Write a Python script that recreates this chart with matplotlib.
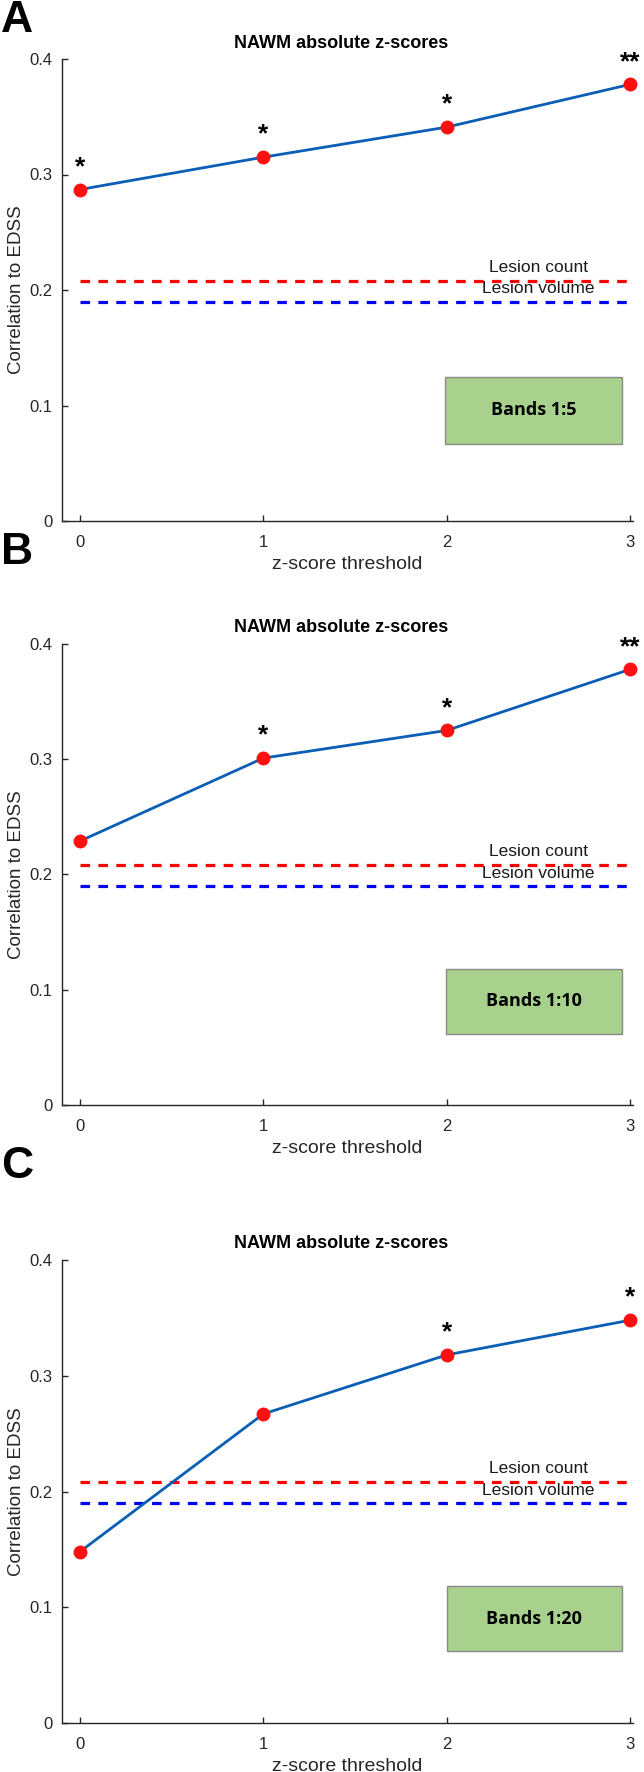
import matplotlib
matplotlib.use("Agg")
import matplotlib.pyplot as plt
from matplotlib.patches import Rectangle

thresholds = [0, 1, 2, 3]
corr_a = [0.287, 0.315, 0.341, 0.378]
corr_b = [0.229, 0.301, 0.325, 0.378]
corr_c = [0.148, 0.267, 0.318, 0.348]
stars_a = ["*", "*", "*", "**"]
stars_b = ["", "*", "*", "**"]
stars_c = ["", "", "*", "*"]
lesion_count = 0.208
lesion_volume = 0.190
band_labels = ["Bands 1:5", "Bands 1:10", "Bands 1:20"]
panel_letters = ["A", "B", "C"]
yticks = [0, 0.1, 0.2, 0.3, 0.4]
yticklabels = ["0", "0.1", "0.2", "0.3", "0.4"]

plt.rcParams["font.family"] = ["Liberation Sans", "DejaVu Sans"]
axcol = "#262626"

fig = plt.figure(figsize=(6.44, 17.72), dpi=100)

W, H = 644.0, 1772.0
# axes boxes in pixels: (left, top, right, bottom)
boxes = [(62, 59, 633, 521), (62, 644, 633, 1105), (62, 1260, 633, 1723)]
letter_y = [20, 552, 1167]
band_boxes = [(1.99, 0.067, 0.967, 0.058), (1.996, 0.062, 0.96, 0.0563), (2.0, 0.062, 0.956, 0.0563)]

series = [(corr_a, stars_a), (corr_b, stars_b), (corr_c, stars_c)]

for i, (vals, stars) in enumerate(series):
    l, t, r, b = boxes[i]
    ax = fig.add_axes([l / W, 1 - b / H, (r - l) / W, (b - t) / H])
    ax.set_xlim(-0.098, 3.016)
    ax.set_ylim(0, 0.4)

    ax.plot([0, 3], [lesion_count] * 2, color="#ff0000", lw=2.3, dashes=(3.0, 2.6))
    ax.plot([0, 3], [lesion_volume] * 2, color="#0000ff", lw=2.3, dashes=(3.0, 2.6))
    ax.plot(thresholds, vals, color="#0a5eb5", lw=2.0, zorder=3)
    ax.plot(thresholds, vals, "o", color="#ff1010", ms=9, mec="#ff1010", zorder=4, clip_on=False)

    for x, y, s in zip(thresholds, vals, stars):
        if s:
            ax.text(x, y + 0.009, s, ha="center", va="bottom", fontsize=19,
                    fontweight="bold", color="black", clip_on=False)

    ax.text(2.5, lesion_count + 0.008, "Lesion count", ha="center", va="baseline",
            fontsize=12.5, color="#1a1a1a")
    ax.text(2.5, lesion_volume + 0.007, "Lesion volume", ha="center", va="baseline",
            fontsize=12.5, color="#1a1a1a")

    bx, by, bw, bh = band_boxes[i]
    ax.add_patch(Rectangle((bx, by), bw, bh, facecolor="#a9d18e", edgecolor="#8a8a8a", lw=1.0, zorder=2))
    ax.text(bx + bw / 2, by + bh / 2, band_labels[i], ha="center", va="center",
            fontsize=13, fontweight="bold", family=["Open Sans", "DejaVu Sans"], color="black", zorder=3)

    ax.text(0.489, 1 + 16 / (b - t), "NAWM absolute z-scores", transform=ax.transAxes,
            ha="center", va="center", fontsize=13, fontweight="bold", color="black")

    ax.set_xticks(thresholds)
    ax.set_yticks(yticks)
    ax.set_yticklabels(yticklabels)
    ax.tick_params(direction="in", length=4, width=1, colors=axcol, labelsize=12)
    ax.tick_params(axis="x", pad=10)
    ax.tick_params(axis="y", pad=7)
    for side in ["top", "right"]:
        ax.spines[side].set_visible(False)
    for side in ["left", "bottom"]:
        ax.spines[side].set_color(axcol)
        ax.spines[side].set_linewidth(1.0)

    ax.set_xlabel("z-score threshold", fontsize=14, color=axcol)
    ax.xaxis.set_label_coords(0.5, -35 / (b - t))
    ax.set_ylabel("Correlation to EDSS", fontsize=13.5, color=axcol)
    ax.yaxis.set_label_coords(-37 / (r - l), 0.5)

    fig.text(1 / W, 1 - letter_y[i] / H, panel_letters[i], ha="left", va="center",
             fontsize=32, fontweight="bold", color="black")

fig.savefig("out.png", dpi=100)
